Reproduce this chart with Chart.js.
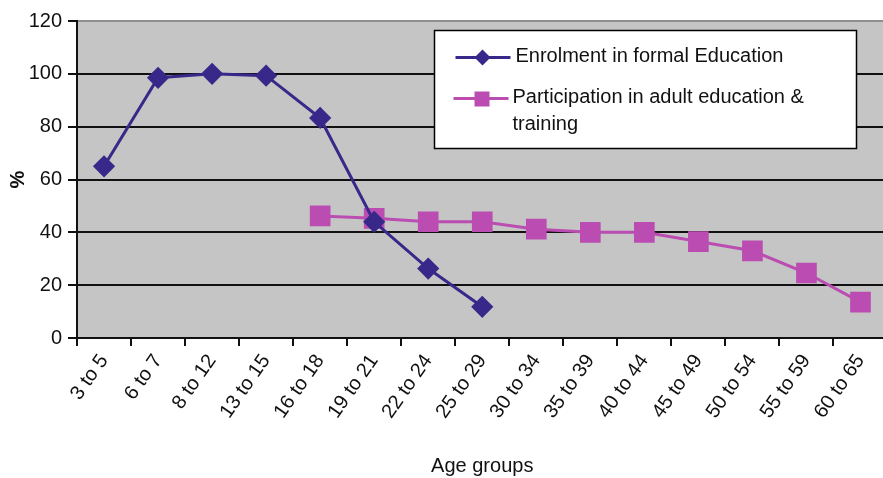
<!DOCTYPE html>
<html>
<head>
<meta charset="utf-8">
<script src="https://cdn.jsdelivr.net/npm/chart.js@4.4.1/dist/chart.umd.min.js"></script>
<style>
  html, body { margin: 0; padding: 0; background: #fff; overflow: hidden; }
  #wrap { width: 903px; height: 478px; }
</style>
</head>
<body>
<div id="wrap"><canvas id="chart" width="903" height="478"></canvas></div>
<script>
// data
const ageGroups = ["3 to 5", "6 to 7", "8 to 12", "13 to 15", "16 to 18", "19 to 21", "22 to 24",
  "25 to 29", "30 to 34", "35 to 39", "40 to 44", "45 to 49", "50 to 54", "55 to 59", "60 to 65"];
const enrolment = [65, 98.5, 100, 99.3, 83.3, 44, 26.3, 11.8, null, null, null, null, null, null, null];
const participation = [null, null, null, null, 46.2, 45.3, 44, 44, 41.2, 40, 40, 36.5, 33, 24.6, 13.6];
const yTicks = [0, 20, 40, 60, 80, 100, 120];

const enrolColor = "#38288a";
const partColor = "#bb4db2";
const fontFam = "'Liberation Sans', Arial, sans-serif";

// grey plot background
const plotBg = {
  id: "plotBg",
  beforeDraw(chart) {
    const { ctx, chartArea: a } = chart;
    ctx.save();
    ctx.fillStyle = "#c4c5c4";
    ctx.fillRect(a.left, a.top, a.right - a.left, a.bottom - a.top);
    ctx.restore();
  },
};

// boxed legend inside the plot, top right
const boxLegend = {
  id: "boxLegend",
  afterDraw(chart) {
    const { ctx, chartArea: a } = chart;
    const x0 = a.left + 357.5, y0 = a.top + 9.5;
    ctx.save();
    ctx.fillStyle = "#fff";
    ctx.strokeStyle = "#000";
    ctx.lineWidth = 1.5;
    ctx.fillRect(x0, y0, 422, 118);
    ctx.strokeRect(x0, y0, 422, 118);

    ctx.lineWidth = 3;
    // row 1
    ctx.strokeStyle = enrolColor;
    ctx.beginPath(); ctx.moveTo(x0 + 21, y0 + 27); ctx.lineTo(x0 + 76, y0 + 27); ctx.stroke();
    ctx.fillStyle = enrolColor;
    ctx.beginPath();
    const dx = x0 + 48, dy = y0 + 27;
    ctx.moveTo(dx, dy - 8); ctx.lineTo(dx + 8, dy); ctx.lineTo(dx, dy + 8); ctx.lineTo(dx - 8, dy);
    ctx.closePath(); ctx.fill();
    // row 2
    ctx.strokeStyle = partColor;
    ctx.beginPath(); ctx.moveTo(x0 + 19, y0 + 68); ctx.lineTo(x0 + 74, y0 + 68); ctx.stroke();
    ctx.fillStyle = partColor;
    ctx.fillRect(x0 + 40, y0 + 61, 15, 15);

    ctx.fillStyle = "#111";
    ctx.font = "20px " + fontFam;
    ctx.textBaseline = "middle";
    ctx.fillText("Enrolment in formal Education", x0 + 81, y0 + 26);
    ctx.fillText("Participation in adult education &", x0 + 78, y0 + 67);
    ctx.fillText("training", x0 + 78, y0 + 94);
    ctx.restore();
  },
};

new Chart(document.getElementById("chart"), {
  type: "line",
  data: {
    labels: ageGroups,
    datasets: [
      {
        label: "Enrolment in formal Education",
        data: enrolment,
        borderColor: enrolColor,
        backgroundColor: enrolColor,
        borderWidth: 3,
        pointStyle: "rectRot",
        pointRadius: 9,
        pointHoverRadius: 9,
        tension: 0,
      },
      {
        label: "Participation in adult education & training",
        data: participation,
        borderColor: partColor,
        backgroundColor: partColor,
        borderWidth: 3,
        pointStyle: "rect",
        pointRadius: 12.5,
        pointHoverRadius: 12.5,
        tension: 0,
      },
    ],
  },
  options: {
    responsive: false,
    animation: false,
    layout: { padding: { top: 21, right: 0, bottom: 0, left: 0 } },
    plugins: {
      legend: { display: false },
      tooltip: { enabled: false },
    },
    scales: {
      x: {
        offset: true,
        afterFit(scale) { scale.height = 140; },
        grid: {
          offset: true,
          drawOnChartArea: false,
          drawTicks: true,
          tickLength: 8,
          color: "#111",
          lineWidth: 2,
        },
        border: { color: "#111", width: 2 },
        ticks: {
          color: "#111",
          font: { family: fontFam, size: 20 },
          minRotation: 55,
          maxRotation: 55,
          autoSkip: false,
          padding: 4,
        },
        title: {
          display: true,
          text: "Age groups",
          color: "#111",
          font: { family: fontFam, size: 20 },
          padding: { top: 0, bottom: 0 },
        },
      },
      y: {
        min: 0,
        max: 120,
        afterFit(scale) { scale.width = 77; },
        afterBuildTicks(scale) { scale.ticks = yTicks.map((v) => ({ value: v })); },
        grid: {
          color: (c) => (c.tick && c.tick.value === 120 ? "#8f8f8f" : "#111"),
          lineWidth: 2,
          tickLength: 9,
          tickColor: "#111",
        },
        border: { color: "#111", width: 2 },
        ticks: {
          color: "#111",
          font: { family: fontFam, size: 20 },
          padding: 6,
        },
        title: {
          display: true,
          text: "%",
          color: "#111",
          font: { family: fontFam, size: 20, weight: "bold" },
          padding: { top: 6, bottom: 0 },
        },
      },
    },
  },
  plugins: [plotBg, boxLegend],
});
</script>
</body>
</html>
